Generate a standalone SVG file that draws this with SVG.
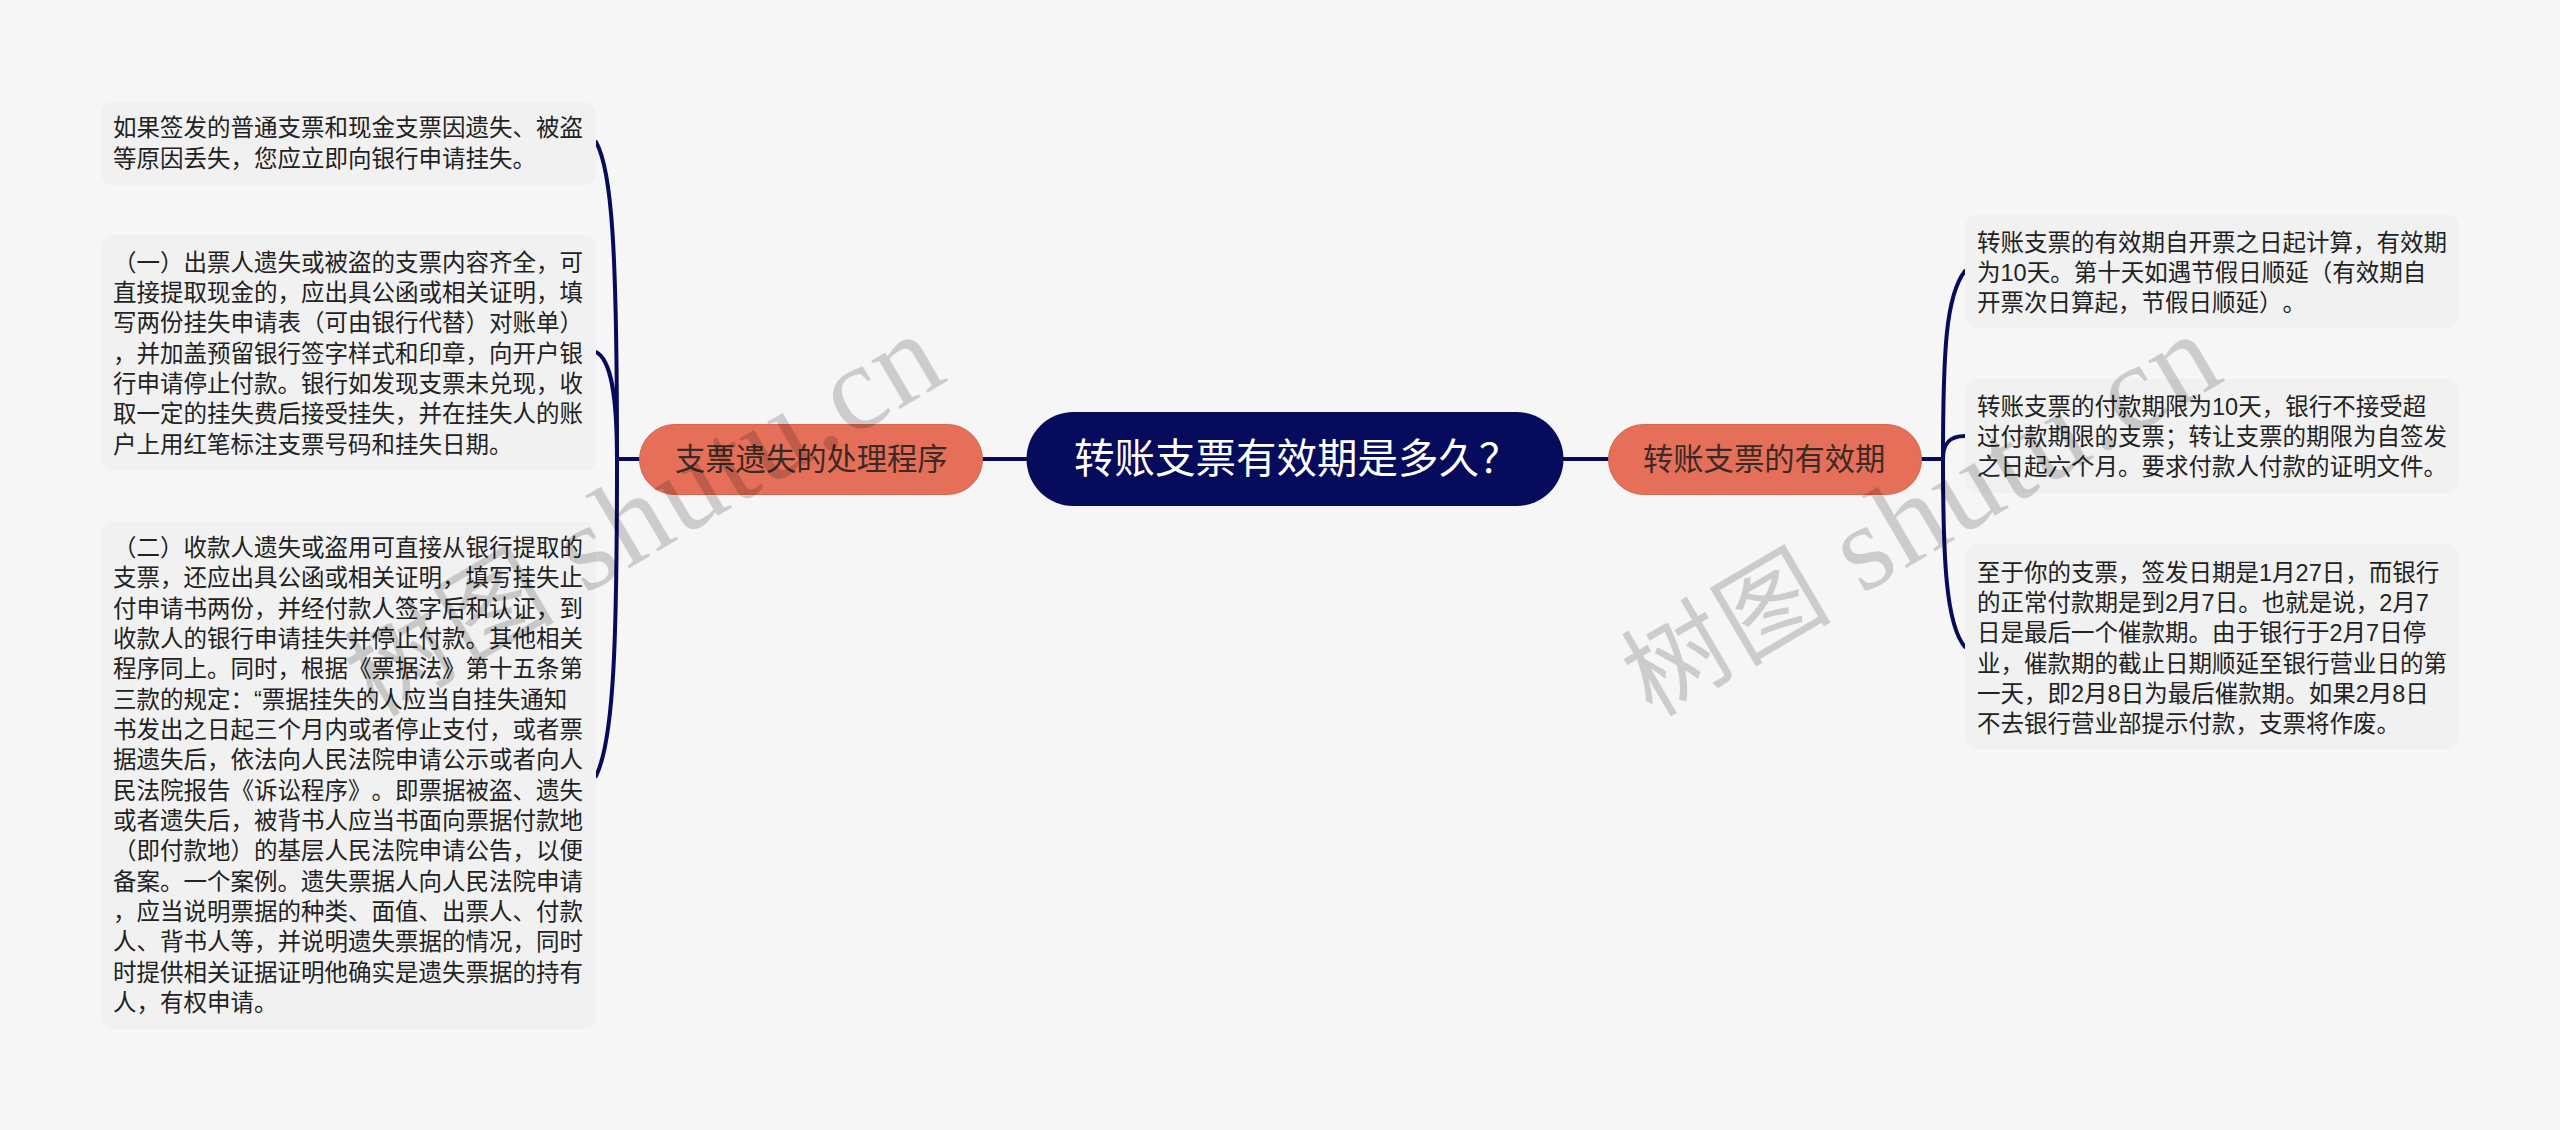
<svg xmlns="http://www.w3.org/2000/svg" width="2560" height="1130" viewBox="0 0 2560 1130">
<style>
text{font-family:"Liberation Sans","Noto Sans CJK SC",sans-serif;text-spacing-trim:space-all}
.t{font-size:23.5px;fill:#222}
.b{fill:#f1f1f1}
.o{fill:#e56f59;stroke:#d9644f;stroke-width:1}
.ot{font-size:30.3px;fill:#3a2a26}
.c{fill:none;stroke:#060b5c;stroke-width:4;stroke-linecap:round}
.w{font-family:"Liberation Serif","Noto Sans CJK SC",serif;font-size:122px;fill:#000;fill-opacity:.17;letter-spacing:2px}
.wc{font-size:104px;letter-spacing:3px}
</style>
<rect width="2560" height="1130" fill="#f6f6f6"/>
<g id="connectors">
<path class="c" d="M982,459H1026M1563,459H1608M639,459H617M1921,459H1943"/>
<path class="c" d="M617,459C617,250 612,170 596,142"/>
<path class="c" d="M617,459C617,400 612,360 596,352"/>
<path class="c" d="M617,459C617,640 614,740 596,776"/>
<path class="c" d="M1943,459C1943,350 1946,295 1965,271"/>
<path class="c" d="M1943,459C1943,445 1948,436 1965,436"/>
<path class="c" d="M1943,459C1943,560 1946,625 1965,647"/>
</g>
<g id="root"><rect x="1026.500" y="412" width="537" height="94" rx="47" fill="#060b5c"/><text x="1074" y="473" font-size="40.500" fill="#fff">转账支票有效期是多久？</text></g>
<g id="branch-left"><rect class="o" x="639.500" y="424.500" width="343" height="70" rx="35"/><text class="ot" x="675" y="470">支票遗失的处理程序</text></g>
<g id="branch-right"><rect class="o" x="1608.500" y="424.500" width="313" height="70" rx="35"/><text class="ot" x="1643" y="470">转账支票的有效期</text></g>
<g id="leaf-l1"><rect class="b" x="101" y="102" width="495" height="83" rx="12"/>
<text class="t" x="113" y="136">如果签发的普通支票和现金支票因遗失、被盗</text>
<text class="t" x="113" y="167">等原因丢失，您应立即向银行申请挂失。</text></g>
<g id="leaf-l2"><rect class="b" x="101" y="235" width="495" height="236" rx="12"/>
<text class="t" x="113" y="271">（一）出票人遗失或被盗的支票内容齐全，可</text>
<text class="t" x="113" y="301">直接提取现金的，应出具公函或相关证明，填</text>
<text class="t" x="113" y="331">写两份挂失申请表（可由银行代替）对账单）</text>
<text class="t" x="113" y="362">，并加盖预留银行签字样式和印章，向开户银</text>
<text class="t" x="113" y="392">行申请停止付款。银行如发现支票未兑现，收</text>
<text class="t" x="113" y="422">取一定的挂失费后接受挂失，并在挂失人的账</text>
<text class="t" x="113" y="453">户上用红笔标注支票号码和挂失日期。</text></g>
<g id="leaf-l3"><rect class="b" x="101" y="522" width="495" height="507" rx="12"/>
<text class="t" x="113" y="556">（二）收款人遗失或盗用可直接从银行提取的</text>
<text class="t" x="113" y="586">支票，还应出具公函或相关证明，填写挂失止</text>
<text class="t" x="113" y="617">付申请书两份，并经付款人签字后和认证，到</text>
<text class="t" x="113" y="647">收款人的银行申请挂失并停止付款。其他相关</text>
<text class="t" x="113" y="677">程序同上。同时，根据《票据法》第十五条第</text>
<text class="t" x="113" y="708">三款的规定：“票据挂失的人应当自挂失通知</text>
<text class="t" x="113" y="738">书发出之日起三个月内或者停止支付，或者票</text>
<text class="t" x="113" y="768">据遗失后，依法向人民法院申请公示或者向人</text>
<text class="t" x="113" y="799">民法院报告《诉讼程序》。即票据被盗、遗失</text>
<text class="t" x="113" y="829">或者遗失后，被背书人应当书面向票据付款地</text>
<text class="t" x="113" y="859">（即付款地）的基层人民法院申请公告，以便</text>
<text class="t" x="113" y="890">备案。一个案例。遗失票据人向人民法院申请</text>
<text class="t" x="113" y="920">，应当说明票据的种类、面值、出票人、付款</text>
<text class="t" x="113" y="950">人、背书人等，并说明遗失票据的情况，同时</text>
<text class="t" x="113" y="981">时提供相关证据证明他确实是遗失票据的持有</text>
<text class="t" x="113" y="1011">人，有权申请。</text></g>
<g id="leaf-r1"><rect class="b" x="1965" y="215" width="494" height="113" rx="12"/>
<text class="t" x="1977" y="251">转账支票的有效期自开票之日起计算，有效期</text>
<text class="t" x="1977" y="281">为10天。第十天如遇节假日顺延（有效期自</text>
<text class="t" x="1977" y="311">开票次日算起，节假日顺延）。</text></g>
<g id="leaf-r2"><rect class="b" x="1965" y="379" width="494" height="114" rx="12"/>
<text class="t" x="1977" y="415">转账支票的付款期限为10天，银行不接受超</text>
<text class="t" x="1977" y="445">过付款期限的支票；转让支票的期限为自签发</text>
<text class="t" x="1977" y="475">之日起六个月。要求付款人付款的证明文件。</text></g>
<g id="leaf-r3"><rect class="b" x="1965" y="544" width="494" height="205" rx="12"/>
<text class="t" x="1977" y="581">至于你的支票，签发日期是1月27日，而银行</text>
<text class="t" x="1977" y="611">的正常付款期是到2月7日。也就是说，2月7</text>
<text class="t" x="1977" y="641">日是最后一个催款期。由于银行于2月7日停</text>
<text class="t" x="1977" y="672">业，催款期的截止日期顺延至银行营业日的第</text>
<text class="t" x="1977" y="702">一天，即2月8日为最后催款期。如果2月8日</text>
<text class="t" x="1977" y="732">不去银行营业部提示付款，支票将作废。</text></g>
<g id="watermarks">
<text class="w" transform="translate(375,718) rotate(-30.500)"><tspan class="wc">树图 </tspan>shutu.cn</text>
<text class="w" transform="translate(1652,718) rotate(-30.500)"><tspan class="wc">树图 </tspan>shutu.cn</text>
</g>
</svg>
